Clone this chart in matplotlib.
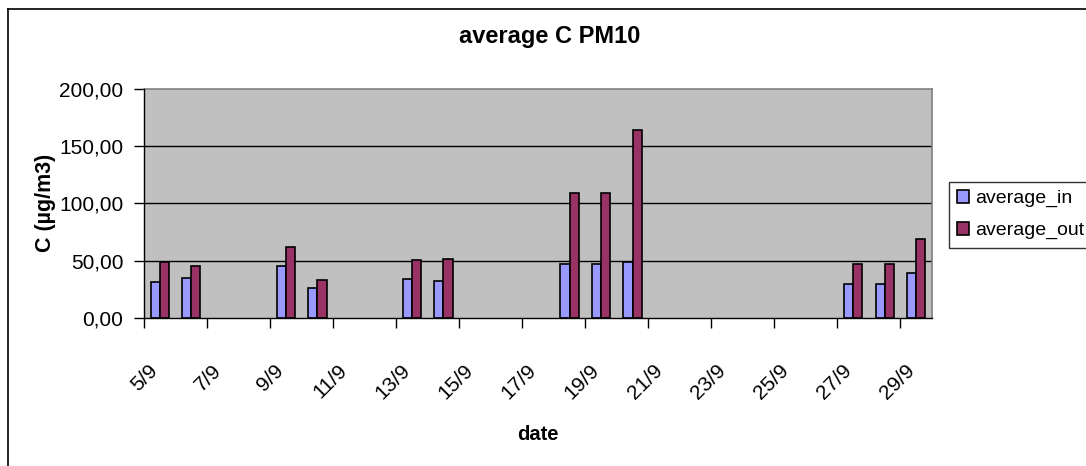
import matplotlib
matplotlib.use("Agg")
import matplotlib.pyplot as plt
from matplotlib.lines import Line2D
from matplotlib.transforms import ScaledTranslation

# ---- data ----
dates = ["5/9", "6/9", "9/9", "10/9", "13/9", "14/9", "18/9", "19/9", "20/9",
         "27/9", "28/9", "29/9"]
average_in = [31.0, 34.4, 45.5, 26.2, 34.1, 32.4, 47.0, 47.0, 48.4, 29.5, 29.5, 39.0]
average_out = [48.7, 45.5, 61.8, 32.7, 50.5, 51.6, 109.0, 109.0, 164.1, 47.0, 47.0, 68.5]
tick_days = list(range(5, 30, 2))
tick_labels = [f"{d}/9" for d in tick_days]
y_ticks = [0, 50, 100, 150, 200]
y_labels = ["0,00", "50,00", "100,00", "150,00", "200,00"]

plt.rcParams['font.family'] = ['Liberation Sans', 'DejaVu Sans']

W, H = 1086, 466
fig = plt.figure(figsize=(W / 100, H / 100), dpi=100)
fig.patch.set_facecolor('white')

L, R, T, B = 144, 932, 89, 317.7
ax = fig.add_axes([L / W, 1 - B / H, (R - L) / W, (B - T) / H])
ax.set_facecolor('#C0C0C0')

days = [int(s.split('/')[0]) for s in dates]
bw = 0.29
x_in = [d + 0.5 - bw / 2 for d in days]
x_out = [d + 0.5 + bw / 2 for d in days]
ax.bar(x_in, average_in, width=bw, color='#9999FF', edgecolor='black',
       linewidth=1.2, label='average_in', zorder=3)
ax.bar(x_out, average_out, width=bw, color='#993366', edgecolor='black',
       linewidth=1.2, label='average_out', zorder=3)

ax.set_xlim(5, 30)
ax.set_ylim(0, 200)
ax.set_yticks(y_ticks)
ax.set_yticklabels(y_labels, fontsize=15)
ax.set_xticks(tick_days)
ax.set_xticklabels(tick_labels, fontsize=15, rotation=45, ha='right',
                   va='center', rotation_mode='anchor')
ax.tick_params(axis='both', direction='out', length=7, width=1, color='black',
               pad=0)
ax.tick_params(axis='y', pad=8)
off = ScaledTranslation(11 / 100, -40 / 100, fig.dpi_scale_trans)
for lab in ax.get_xticklabels():
    lab.set_transform(lab.get_transform() + off)

for yv in y_ticks[1:-1]:
    ax.axhline(yv, color='black', linewidth=1, zorder=1)

for side in ['top', 'right']:
    ax.spines[side].set_color('#808080')
    ax.spines[side].set_linewidth(1.2)
for side in ['left', 'bottom']:
    ax.spines[side].set_color('#000000')
    ax.spines[side].set_linewidth(1)
    ax.spines[side].set_zorder(4)

fig.text(550 / W, 1 - 42.7 / H, "average C PM10", fontsize=17, fontweight='bold',
         ha='center', va='baseline')
fig.text(45 / W, 1 - 203 / H, "C (µg/m3)", fontsize=15.5, fontweight='bold',
         rotation=90, ha='center', va='center')
fig.text(538 / W, 1 - 434 / H, "date", fontsize=14.5, fontweight='bold',
         ha='center', va='center')

leg = fig.legend(loc='upper left', bbox_to_anchor=(949 / W, 1 - 182 / H),
                 bbox_transform=fig.transFigure, frameon=True, fancybox=False,
                 fontsize=14, handlelength=0.62, handleheight=0.62,
                 handletextpad=0.3, labelspacing=0.75, borderpad=0.42,
                 borderaxespad=0)
leg.get_frame().set_edgecolor('black')
leg.get_frame().set_linewidth(1)

# outer chart frame (left and top edges visible)
fig.add_artist(Line2D([8 / W, 8 / W], [0, 1 - 9 / H], color='black',
                      linewidth=1.2, transform=fig.transFigure))
fig.add_artist(Line2D([8 / W, 1], [1 - 9 / H, 1 - 9 / H], color='black',
                      linewidth=1.2, transform=fig.transFigure))

fig.savefig("out.png", dpi=100)
